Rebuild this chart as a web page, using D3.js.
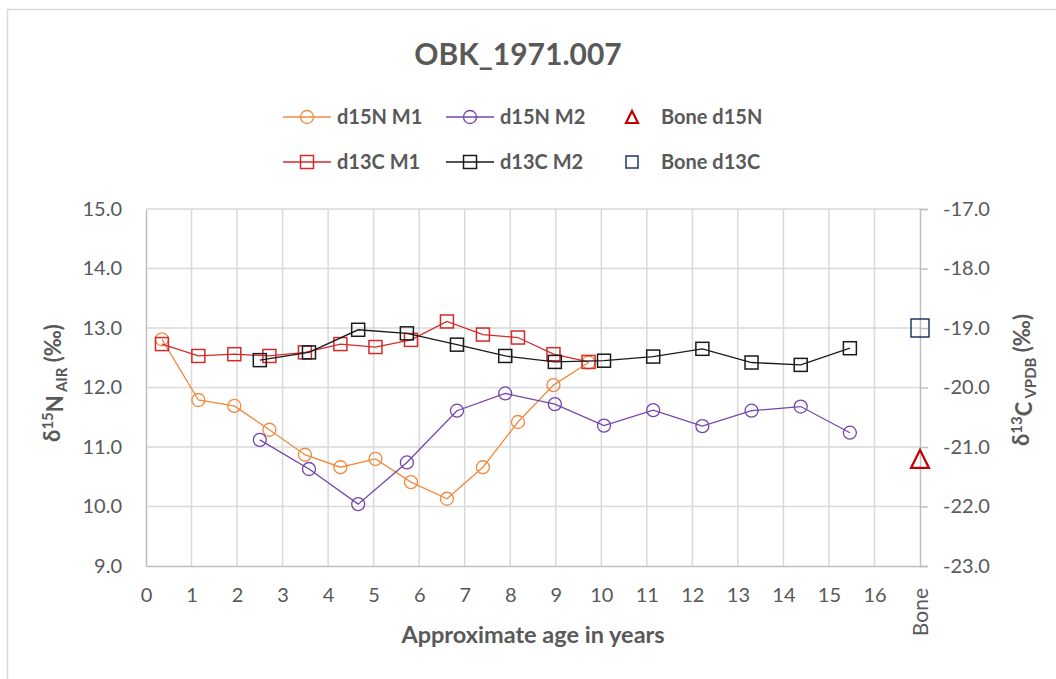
<!DOCTYPE html>
<html lang="en">

<head>
  <meta charset="UTF-8">
  <title>OBK_1971.007</title>
  <script src="https://d3js.org/d3.v7.min.js"></script>
  <style>
    body { margin: 0; background: #fff; }
    text { font-family: Lato, "Open Sans", sans-serif; fill: #595959; }
  </style>
</head>

<body>
  <svg width="1056" height="679" id="chart"></svg>

  <script>
    // values
    const ageM1 = [0.35, 1.15, 1.94, 2.71, 3.49, 4.27, 5.04, 5.82, 6.61, 7.40, 8.17, 8.95, 9.72];
    const d15nM1 = [12.81, 11.79, 11.69, 11.29, 10.87, 10.66, 10.80, 10.41, 10.13, 10.66, 11.42, 12.04, 12.42];
    const d13cM1 = [-19.27, -19.47, -19.44, -19.47, -19.41, -19.27, -19.32, -19.20, -18.89, -19.11, -19.16, -19.44, -19.57];

    const ageM2 = [2.50, 3.58, 4.66, 5.73, 6.83, 7.89, 8.98, 10.06, 11.14, 12.22, 13.30, 14.38, 15.46];
    const d15nM2 = [11.12, 10.63, 10.04, 10.74, 11.61, 11.90, 11.72, 11.36, 11.62, 11.35, 11.61, 11.68, 11.24];
    const d13cM2 = [-19.54, -19.41, -19.03, -19.09, -19.28, -19.47, -19.57, -19.55, -19.48, -19.35, -19.58, -19.62, -19.34];

    const boneAge = 17;
    const boneD15N = 10.80;
    const boneD13C = -19.00;

    const xTicks = d3.range(0, 18);
    const leftTicks = [9, 10, 11, 12, 13, 14, 15];
    const rightTicks = [-23, -22, -21, -20, -19, -18, -17];

    const svg = d3.select("#chart");
    const margin = { top: 209, right: 136, bottom: 113, left: 146 };
    const width = +svg.attr("width");
    const height = +svg.attr("height");

    const x = d3.scaleLinear().domain([0, 17]).range([margin.left, width - margin.right]);
    const yLeft = d3.scaleLinear().domain([9, 15]).range([height - margin.bottom, margin.top]);
    const yRight = d3.scaleLinear().domain([-23, -17]).range([height - margin.bottom, margin.top]);

    const gridColor = "#d9d9d9";
    const axisColor = "#bfbfbf";
    const oneDecimal = d => d.toFixed(1); // plain hyphen for negatives, like the original

    // outer chart frame
    svg.append("rect")
      .attr("x", 7.5).attr("y", 9.5)
      .attr("width", 1100).attr("height", 700)
      .attr("fill", "none")
      .attr("stroke", gridColor)
      .attr("stroke-width", 1.5);

    // grid lines
    svg.append("g")
      .selectAll("line")
      .data(leftTicks.slice(1))
      .join("line")
      .attr("x1", x(0)).attr("x2", x(17))
      .attr("y1", d => yLeft(d)).attr("y2", d => yLeft(d))
      .attr("stroke", gridColor).attr("stroke-width", 1.5);

    svg.append("g")
      .selectAll("line")
      .data(xTicks.slice(1, 17))
      .join("line")
      .attr("x1", d => x(d)).attr("x2", d => x(d))
      .attr("y1", yLeft(9)).attr("y2", yLeft(15))
      .attr("stroke", gridColor).attr("stroke-width", 1.5);

    // left axis
    const leftAxis = svg.append("g")
      .attr("transform", `translate(${margin.left},0)`)
      .call(d3.axisLeft(yLeft).tickValues(leftTicks).tickFormat(oneDecimal).tickSize(0).tickPadding(24));
    leftAxis.select(".domain").attr("stroke", axisColor).attr("stroke-width", 1.5);
    leftAxis.selectAll("text").style("font-size", "20px").attr("fill", "#595959");

    // right axis
    const rightAxis = svg.append("g")
      .attr("transform", `translate(${x(17)},0)`)
      .call(d3.axisRight(yRight).tickValues(rightTicks).tickFormat(oneDecimal).tickSize(8).tickSizeOuter(8).tickPadding(15));
    rightAxis.select(".domain").attr("stroke", axisColor).attr("stroke-width", 1.5);
    rightAxis.selectAll(".tick line").attr("stroke", axisColor).attr("stroke-width", 1.5);
    rightAxis.selectAll("text").style("font-size", "20px").attr("fill", "#595959");

    // bottom axis
    const bottomAxis = svg.append("g")
      .attr("transform", `translate(0,${yLeft(9)})`)
      .call(d3.axisBottom(x).tickValues(xTicks).tickFormat(d => d === 17 ? "Bone" : d).tickSize(0).tickPadding(22));
    bottomAxis.select(".domain").attr("stroke", axisColor).attr("stroke-width", 1.5);
    bottomAxis.selectAll("text").style("font-size", "20px").attr("fill", "#595959");
    bottomAxis.selectAll(".tick text")
      .filter(d => d === 17)
      .attr("transform", "rotate(-90)")
      .attr("text-anchor", "end")
      .attr("x", -22).attr("y", 0).attr("dy", "0.35em")
      .style("font-size", "21px");

    // titles
    svg.append("text")
      .attr("x", 518).attr("y", 65)
      .attr("text-anchor", "middle")
      .style("font-size", "30px").style("font-weight", "bold")
      .text("OBK_1971.007");

    svg.append("text")
      .attr("x", 533).attr("y", 643)
      .attr("text-anchor", "middle")
      .style("font-size", "23.5px").style("font-weight", "bold")
      .text("Approximate age in years");

    function axisTitle(cx, cy, sup, letter, sub) {
      const t = svg.append("text")
        .attr("transform", `translate(${cx},${cy}) rotate(-90)`)
        .attr("text-anchor", "middle")
        .attr("dy", "0.35em")
        .style("font-size", "22px").style("font-weight", "bold");
      t.append("tspan").text("δ");
      t.append("tspan").attr("dy", "-0.45em").style("font-size", "15px").text(sup);
      t.append("tspan").attr("dy", "0.45em").text(letter);
      t.append("tspan").attr("dy", "0.3em").style("font-size", "15px").text(" " + sub);
      t.append("tspan").attr("dy", "-0.3em").text(" (‰)");
    }
    axisTitle(52, 383, "15", "N", "AIR");
    axisTitle(1021, 380, "13", "C", "VPDB");

    // series
    const series = [
      { name: "d15N M1", ages: ageM1, values: d15nM1, y: yLeft, color: "#f08a3e", shape: "circle" },
      { name: "d15N M2", ages: ageM2, values: d15nM2, y: yLeft, color: "#7444ac", shape: "circle" },
      { name: "d13C M1", ages: ageM1, values: d13cM1, y: yRight, color: "#d42a2a", shape: "square" },
      { name: "d13C M2", ages: ageM2, values: d13cM2, y: yRight, color: "#1a1a1a", shape: "square" }
    ];

    const plot = svg.append("g");

    function drawMarker(g, shape, cx, cy, color, size) {
      const h = size / 2;
      if (shape === "circle") {
        g.append("circle").attr("cx", cx).attr("cy", cy).attr("r", h)
          .attr("fill", "none").attr("stroke", color).attr("stroke-width", 1.3);
      } else if (shape === "square") {
        g.append("rect").attr("x", cx - h).attr("y", cy - h).attr("width", size).attr("height", size)
          .attr("fill", "none").attr("stroke", color).attr("stroke-width", 1.5);
      } else {
        g.append("path")
          .attr("d", `M${cx - h},${cy + h}L${cx + h},${cy + h}L${cx},${cy - h}Z`)
          .attr("fill", "none").attr("stroke", color).attr("stroke-width", 2.2)
          .attr("stroke-linejoin", "miter");
      }
    }

    series.forEach(s => {
      const pts = s.ages.map((a, i) => [x(a), s.y(s.values[i])]);
      plot.append("path")
        .attr("d", d3.line()(pts))
        .attr("fill", "none")
        .attr("stroke", s.color)
        .attr("stroke-width", 1.3);
      pts.forEach(p => drawMarker(plot, s.shape, p[0], p[1], s.color, 13));
    });

    // bone values
    drawMarker(plot, "triangle", x(boneAge), yLeft(boneD15N), "#c00000", 18);
    drawMarker(plot, "square", x(boneAge), yRight(boneD13C), "#203864", 18);

    // legend
    const legendItems = [
      { name: "d15N M1", color: "#f08a3e", shape: "circle", line: true, lx: 283, ly: 117 },
      { name: "d15N M2", color: "#7444ac", shape: "circle", line: true, lx: 446, ly: 117 },
      { name: "Bone d15N", color: "#c00000", shape: "triangle", line: false, lx: 608, ly: 117 },
      { name: "d13C M1", color: "#d42a2a", shape: "square", line: true, lx: 283, ly: 162 },
      { name: "d13C M2", color: "#1a1a1a", shape: "square", line: true, lx: 446, ly: 162 },
      { name: "Bone d13C", color: "#203864", shape: "square", line: false, lx: 608, ly: 162 }
    ];

    const legend = svg.append("g");
    legendItems.forEach(d => {
      const g = legend.append("g");
      if (d.line) {
        g.append("line").attr("x1", d.lx).attr("x2", d.lx + 48)
          .attr("y1", d.ly).attr("y2", d.ly)
          .attr("stroke", d.color).attr("stroke-width", 1.3);
        drawMarker(g, d.shape, d.lx + 24, d.ly, d.color, 13);
      } else {
        drawMarker(g, d.shape, d.lx + 24, d.ly, d.color, 12);
      }
      g.append("text")
        .attr("x", d.line ? d.lx + 54 : d.lx + 53)
        .attr("y", d.ly).attr("dy", "0.35em")
        .style("font-size", "20px").style("font-weight", "bold")
        .text(d.name);
    });
  </script>
</body>

</html>
